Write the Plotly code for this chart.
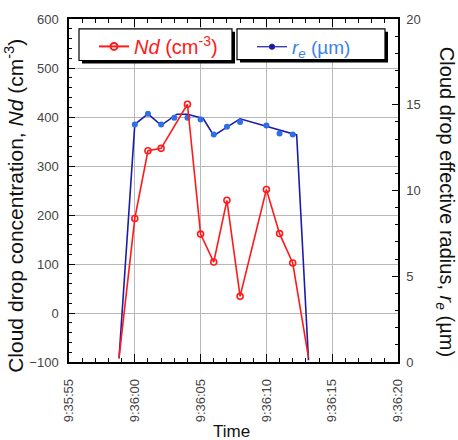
import plotly.graph_objects as go

DAY = "2000-01-01 "

# Cloud drop number concentration Nd (cm^-3)
nd_time = ["09:35:58.8", "09:36:00", "09:36:01", "09:36:02", "09:36:04", "09:36:05",
           "09:36:06", "09:36:07", "09:36:08", "09:36:10", "09:36:11", "09:36:12", "09:36:13.2"]
nd_vals = [-92, 193, 331, 336, 426, 161, 104, 230, 34, 252, 162, 102, -91]
nd_marker_time = nd_time[1:-1]
nd_marker_vals = nd_vals[1:-1]

# Effective radius re (um): line (smoothed) and sample points
re_line_time = ["09:35:58.8", "09:36:00", "09:36:01", "09:36:02", "09:36:03.2", "09:36:04",
                "09:36:05.2", "09:36:06", "09:36:07", "09:36:08", "09:36:12.3", "09:36:13.2"]
re_line_vals = [0.2, 13.85, 14.47, 13.8, 14.45, 14.45, 14.2, 13.2, 13.7, 14.18, 13.24, 0.1]
re_pt_time = ["09:36:00", "09:36:01", "09:36:02", "09:36:03", "09:36:04", "09:36:05",
              "09:36:06", "09:36:07", "09:36:08", "09:36:10", "09:36:11", "09:36:12"]
re_pt_vals = [13.85, 14.47, 13.85, 14.24, 14.24, 14.14, 13.27, 13.72, 13.99, 13.79, 13.33, 13.27]

x_range = ["09:35:55", "09:36:20"]
nd_range = [-100, 600]
re_range = [0, 20]

RED = "#ff1a1a"
BLUE_LINE = "#1c1caa"
BLUE_PT = "#2f6fe6"
BLUE_TXT = "#3c82ea"
FONT = "Arial, Liberation Sans, sans-serif"

def ts(lst):
    return [DAY + t for t in lst]

fig = go.Figure()

# blue (right axis, base subplot)
fig.add_trace(go.Scatter(x=ts(re_line_time), y=re_line_vals, mode="lines",
                         line=dict(color=BLUE_LINE, width=1.6), yaxis="y", showlegend=False))
fig.add_trace(go.Scatter(x=ts(re_pt_time), y=re_pt_vals, mode="markers",
                         marker=dict(color=BLUE_PT, size=6), yaxis="y", showlegend=False))
# red (left axis, overlaid on top)
fig.add_trace(go.Scatter(x=ts(nd_time), y=nd_vals, mode="lines",
                         line=dict(color=RED, width=1.6), yaxis="y2", showlegend=False))
fig.add_trace(go.Scatter(x=ts(nd_marker_time), y=nd_marker_vals, mode="markers",
                         marker=dict(color=RED, size=6, symbol="circle-open",
                                     line=dict(width=1.6)),
                         yaxis="y2", showlegend=False))

# legend entries
fig.add_trace(go.Scatter(x=[None], y=[None], mode="lines+markers", yaxis="y2",
                         name="<i>Nd</i> (cm<sup>-3</sup>)", legend="legend",
                         line=dict(color=RED, width=2),
                         marker=dict(color=RED, size=7, symbol="circle-open",
                                     line=dict(width=2))))
fig.add_trace(go.Scatter(x=[None], y=[None], mode="lines+markers", yaxis="y",
                         name="<i>r<sub>e</sub></i> (µm)", legend="legend2",
                         line=dict(color=BLUE_LINE, width=1.2),
                         marker=dict(color=BLUE_LINE, size=6)))

W, H = 458, 440
L, R, T, B = 69, 60, 15, 78
pw, ph = W - L - R, H - T - B

def px(x):
    return (x - L) / pw

def py(y):
    return (H - B - y) / ph

shapes = []
for (x0, y0, x1, y1) in [(79, 25, 232, 57), (237, 25, 385, 56)]:
    shapes.append(dict(type="rect", xref="paper", yref="paper", layer="above",
                       x0=px(x0 + 3), x1=px(x1 + 3), y0=py(y0 + 3), y1=py(y1 + 3),
                       fillcolor="black", line=dict(width=0)))
    shapes.append(dict(type="rect", xref="paper", yref="paper", layer="above",
                       x0=px(x0), x1=px(x1), y0=py(y0), y1=py(y1),
                       fillcolor="white", line=dict(color="black", width=1.2)))

axis_common = dict(showline=True, linecolor="black", linewidth=1.5,
                   tickfont=dict(family=FONT, size=13, color="#444444"))

fig.update_layout(
    width=W, height=H,
    margin=dict(l=L, r=R, t=T, b=B),
    paper_bgcolor="white", plot_bgcolor="white",
    font=dict(family=FONT),
    xaxis=dict(type="date", range=ts(x_range), dtick=5000, tick0=DAY + x_range[0],
               tickformat="%-H:%M:%S", tickangle=-90, ticks="inside", ticklen=8,
               tickcolor="black", tickwidth=1.2, mirror="ticks", showgrid=True,
               gridcolor="#b8b8b8", gridwidth=1, ticklabelstandoff=10,
               minor=dict(dtick=1000, ticks="inside", ticklen=4, tickcolor="black",
                          showgrid=False),
               **axis_common),
    yaxis=dict(range=re_range, side="right", dtick=5, ticks="inside", ticklen=6,
               tickcolor="black", tickwidth=1.2, showgrid=False, zeroline=False,
               ticklabelstandoff=4,
               minor=dict(dtick=1, ticks="inside", ticklen=3, tickcolor="black"),
               **axis_common),
    yaxis2=dict(range=nd_range, side="left", overlaying="y", dtick=100, ticks="inside",
                ticklen=6, tickcolor="black", tickwidth=1.2, showgrid=True,
                gridcolor="#b8b8b8", gridwidth=1, zeroline=False, ticklabelstandoff=6,
                minor=dict(dtick=20, ticks="inside", ticklen=3, tickcolor="black"),
                **axis_common),
    legend=dict(x=px(94), y=py(23), xanchor="left", yanchor="top",
                bgcolor="rgba(0,0,0,0)", borderwidth=0,
                font=dict(family=FONT, size=20, color=RED)),
    legend2=dict(x=px(252), y=py(24), xanchor="left", yanchor="top",
                 bgcolor="rgba(0,0,0,0)", borderwidth=0,
                 font=dict(family=FONT, size=19, color=BLUE_TXT)),
    shapes=shapes,
    annotations=[
        dict(text="Cloud drop concentration, <i>Nd</i> (cm<sup>-3</sup>)", textangle=-90,
             xref="paper", yref="paper", x=px(14), y=py(204), showarrow=False,
             xanchor="center", yanchor="middle",
             font=dict(family=FONT, size=21, color="#111111")),
        dict(text="Cloud drop effective radius, <i>r<sub>e</sub></i> (µm)", textangle=90,
             xref="paper", yref="paper", x=px(445), y=py(200), showarrow=False,
             xanchor="center", yanchor="middle",
             font=dict(family=FONT, size=20, color="#111111")),
        dict(text="Time", xref="paper", yref="paper", x=px(231), y=py(432),
             showarrow=False, xanchor="center", yanchor="middle",
             font=dict(family=FONT, size=17, color="#111111")),
    ],
)

fig.write_html("out.html")
